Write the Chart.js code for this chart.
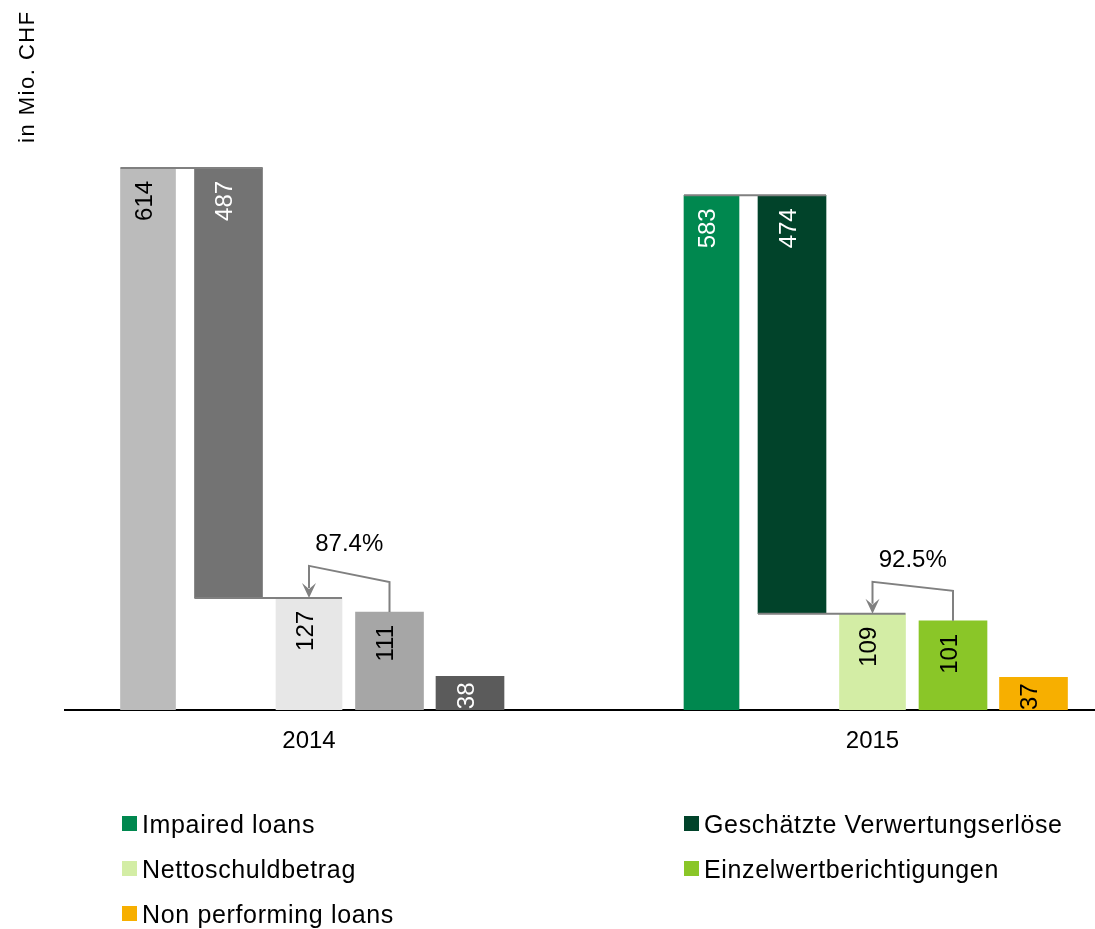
<!DOCTYPE html>
<html><head><meta charset="utf-8">
<script src="https://cdn.jsdelivr.net/npm/chart.js@4"></script>
<style>html,body{margin:0;padding:0;background:#fff}#wrap{width:1095px;height:929px;position:relative}</style>
</head><body><div id="wrap"><canvas id="c" width="1095" height="929"></canvas></div>
<script>
// ---- data ----
const categories = ['2014', '2015'];
const seriesNames = ['Impaired loans', 'Geschätzte Verwertungserlöse', 'Nettoschuldbetrag', 'Einzelwertberichtigungen', 'Non performing loans'];
const impairedLoans = [614, 583];
const verwertungserloese = [487, 474];
const nettoschuldbetrag = [127, 109];
const einzelwertberichtigungen = [111, 101];
const nonPerformingLoans = [38, 37];
const deckungsgrad = ['87.4%', '92.5%'];
const yAxisTitle = 'in Mio. CHF';

// ---- styles ----
const FONT = 'Arial, "Liberation Sans", sans-serif';
const colors = [ // [2014, 2015]
  ['#BBBBBB', '#00884F'],
  ['#737373', '#01432A'],
  ['#E7E7E7', '#D3EDA5'],
  ['#A6A6A6', '#8AC628'],
  ['#5B5B5B', '#F7AF00']
];
const legendColors = colors.map(c => c[1]);
const labelColors = [['#000', '#fff'], ['#fff', '#fff'], ['#000', '#000'], ['#000', '#000'], ['#fff', '#000']];
const barWidths = [55, 68, 66, 68, 68];
const SLOT = 7;

const values = [impairedLoans, verwertungserloese, nettoschuldbetrag, einzelwertberichtigungen, nonPerformingLoans];
const datasets = values.map((arr, s) => ({
  label: seriesNames[s],
  data: arr.map((v, g) => ({ x: g * SLOT + s, y: s === 1 ? [impairedLoans[g] - v, impairedLoans[g]] : v })),
  backgroundColor: colors[s],
  barThickness: barWidths[s],
  grouped: false,
  borderWidth: 0
}));

const overlay = {
  id: 'overlay',
  afterDatasetsDraw(chart) {
    const ctx = chart.ctx, area = chart.chartArea;
    const metas = values.map((_, s) => chart.getDatasetMeta(s));
    ctx.save();
    // value labels
    ctx.beginPath();
    ctx.rect(area.left, area.top, area.right - area.left, area.bottom - area.top);
    ctx.clip();
    ctx.font = '24px ' + FONT;
    values.forEach((arr, s) => metas[s].data.forEach((bar, g) => {
      const top = Math.min(bar.y, bar.base), h = Math.abs(bar.base - bar.y);
      const off = h > 60 ? 13 : 6;
      ctx.save();
      ctx.translate(bar.x + 3.5, top + off);
      ctx.rotate(-Math.PI / 2);
      ctx.textAlign = 'right';
      ctx.textBaseline = 'alphabetic';
      ctx.fillStyle = labelColors[s][g];
      ctx.fillText(String(arr[g]), 0, 0);
      ctx.restore();
    }));
    ctx.restore();

    ctx.save();
    ctx.strokeStyle = '#808080';
    ctx.fillStyle = '#808080';
    ctx.lineWidth = 2;
    categories.forEach((c, g) => {
      const b0 = metas[0].data[g], b1 = metas[1].data[g], b2 = metas[2].data[g], b3 = metas[3].data[g];
      const t0 = Math.min(b0.y, b0.base);
      const low1 = Math.max(b1.y, b1.base);
      ctx.beginPath();
      ctx.moveTo(b0.x - b0.width / 2, t0); ctx.lineTo(b1.x + b1.width / 2, t0);
      ctx.moveTo(b1.x - b1.width / 2, low1); ctx.lineTo(b2.x + b2.width / 2, low1);
      ctx.stroke();
      // bracket
      const ly = b2.y - 32, ry = b3.y - 30;
      ctx.beginPath();
      ctx.moveTo(b3.x, b3.y); ctx.lineTo(b3.x, ry); ctx.lineTo(b2.x, ly); ctx.lineTo(b2.x, b2.y - 10);
      ctx.stroke();
      ctx.beginPath();
      ctx.moveTo(b2.x, b2.y);
      ctx.lineTo(b2.x - 7, b2.y - 15);
      ctx.lineTo(b2.x, b2.y - 9);
      ctx.lineTo(b2.x + 7, b2.y - 15);
      ctx.closePath();
      ctx.fill();
      ctx.save();
      ctx.fillStyle = '#000';
      ctx.font = '24px ' + FONT;
      ctx.textAlign = 'center';
      ctx.textBaseline = 'alphabetic';
      ctx.fillText(deckungsgrad[g], (b2.x + b3.x) / 2, Math.min(ly, ry) - 15);
      ctx.restore();
    });
    ctx.restore();
  },
  afterDraw(chart) {
    const ctx = chart.ctx;
    ctx.save();
    // y title
    ctx.save();
    ctx.translate(33.5, 143);
    ctx.rotate(-Math.PI / 2);
    ctx.font = '22px ' + FONT;
    ctx.letterSpacing = '1.5px';
    ctx.fillStyle = '#000';
    ctx.textAlign = 'left';
    ctx.textBaseline = 'alphabetic';
    ctx.fillText(yAxisTitle, 0, 0);
    ctx.restore();
    // legend
    const cols = [122, 684], baseY = 833, rowH = 45;
    ctx.font = '25px ' + FONT;
    ctx.letterSpacing = '0.65px';
    ctx.textAlign = 'left';
    ctx.textBaseline = 'alphabetic';
    seriesNames.forEach((name, i) => {
      const x = cols[i % 2], y = baseY + Math.floor(i / 2) * rowH;
      ctx.fillStyle = legendColors[i];
      ctx.fillRect(x, y - 17, 15, 15);
      ctx.fillStyle = '#000';
      ctx.fillText(name, x + 20, y);
    });
    ctx.restore();
  }
};

const pxPerSlot = 80.5, firstCenter = 148, areaLeft = 65, areaRight = 1095;
const xMin = (areaLeft - firstCenter) / pxPerSlot;
const xMax = xMin + (areaRight - areaLeft) / pxPerSlot;

new Chart(document.getElementById('c'), {
  type: 'bar',
  data: { datasets },
  plugins: [overlay],
  options: {
    responsive: false,
    maintainAspectRatio: false,
    animation: false,
    layout: { padding: { left: 65, right: 0, top: 92, bottom: 159 } },
    plugins: { legend: { display: false }, tooltip: { enabled: false } },
    scales: {
      x: {
        type: 'linear',
        offset: false,
        min: xMin,
        max: xMax,
        z: 1,
        grid: { display: false, drawTicks: false, offset: false },
        border: { display: true, color: '#000', width: 2 },
        afterBuildTicks: s => { s.ticks = categories.map((c, g) => ({ value: g * SLOT + 2 })); },
        afterFit: s => { s.height = 60; },
        ticks: {
          autoSkip: false,
          maxRotation: 0,
          padding: 17,
          color: '#000',
          font: { size: 24, family: FONT },
          callback: (v, i) => categories[i]
        }
      },
      y: {
        display: false,
        min: 0,
        max: 700
      }
    }
  }
});
</script>
</body></html>
